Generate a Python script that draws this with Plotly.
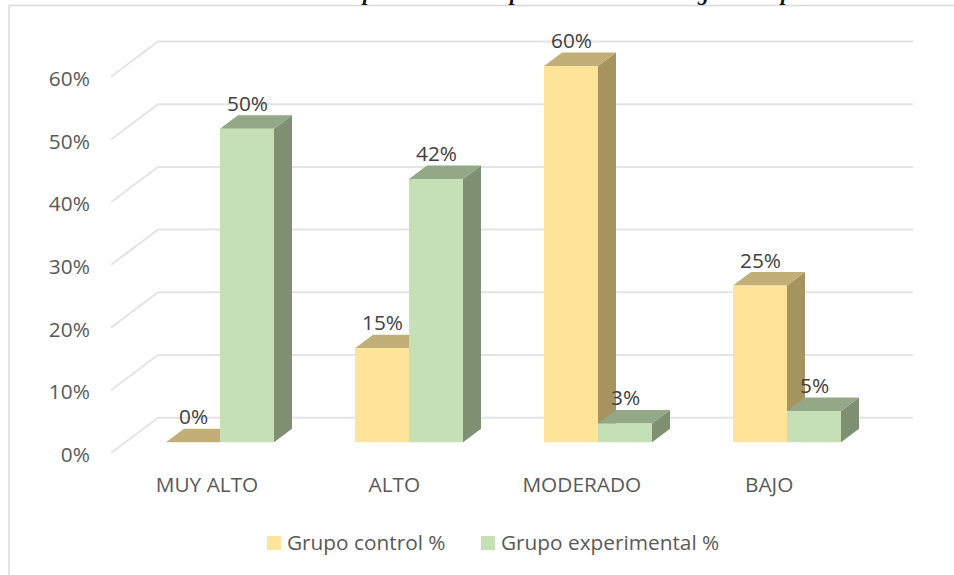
import plotly.graph_objects as go

# Chart data
categories = ["MUY ALTO", "ALTO", "MODERADO", "BAJO"]
control_values = [0, 15, 60, 25]
experimental_values = [50, 42, 3, 5]
series_names = ["Grupo control %", "Grupo experimental %"]
percent_ticks = [0, 10, 20, 30, 40, 50, 60]

# Canvas and plotting geometry, in pixels
WIDTH, HEIGHT = 954, 575
PLOT_L, PLOT_R, PLOT_T, PLOT_B = 96, 954, 18, 466
GROUP_X0, GROUP_STEP = 220.0, 189.0      # shared edge of the two bars in the first group
BASE_Y, UNIT_Y = 442.3, 6.27             # zero level of the bar fronts, pixels per percent
BAR_W = 54.0
DEPTH_X, DEPTH_Y = 18.0, 13.5            # oblique offset of a bar's rear edge


def cat(px):
    return (px - GROUP_X0) / GROUP_STEP


def val(py):
    return (BASE_Y - py) / UNIT_Y


bar_w = BAR_W / GROUP_STEP
dx = DEPTH_X / GROUP_STEP
dy = DEPTH_Y / UNIT_Y

# The floor extends in front of and behind the bars
FLOOR_FRONT = val(453.0)
FLOOR_BACK = val(417.7)
WALL_LEFT, WALL_RIGHT, FLOOR_LEFT = cat(158), cat(913), cat(111)

fig = go.Figure()


def polygons(shapes):
    xs, ys = [], []
    for shape in shapes:
        xs += [p[0] for p in shape] + [shape[0][0], None]
        ys += [p[1] for p in shape] + [shape[0][1], None]
    return xs, ys


def add_faces(shapes, color, name):
    xs, ys = polygons(shapes)
    fig.add_trace(go.Scatter(x=xs, y=ys, mode="lines", fill="toself", fillcolor=color,
                             line=dict(width=0, color=color), name=name,
                             showlegend=False, hoverinfo="skip"))


# Wall gridlines with their diagonal runs over the side wall
grid_x, grid_y = [], []
for t in percent_ticks:
    grid_x += [FLOOR_LEFT, WALL_LEFT, WALL_RIGHT, None]
    grid_y += [t + FLOOR_FRONT, t + FLOOR_BACK, t + FLOOR_BACK, None]
fig.add_trace(go.Scatter(x=grid_x, y=grid_y, mode="lines",
                         line=dict(color="#E4E4E4", width=2),
                         showlegend=False, hoverinfo="skip"))


def add_series(values, left_offset, colors, name):
    front, side, top = [], [], []
    for i, v in enumerate(values):
        x0 = i + left_offset
        x1 = x0 + bar_w
        front.append([(x0, 0), (x1, 0), (x1, v), (x0, v)])
        side.append([(x1, 0), (x1 + dx, dy), (x1 + dx, v + dy), (x1, v)])
        top.append([(x0, v), (x1, v), (x1 + dx, v + dy), (x0 + dx, v + dy)])
    add_faces(side, colors[1], name)
    add_faces(top, colors[2], name)
    add_faces(front, colors[0], name)


CONTROL_COLORS = ("#FEE498", "#A5945F", "#C1AF77")
EXPERIMENTAL_COLORS = ("#C6E0B5", "#7F8F72", "#93A886")
add_series(control_values, -bar_w, CONTROL_COLORS, series_names[0])
add_series(experimental_values, 0.0, EXPERIMENTAL_COLORS, series_names[1])

FONT = "Open Sans"
TEXT_SIZE = 20.8
annotations = []

# Value labels sit above the rear edge of each bar
for values, left_offset in ((control_values, -bar_w), (experimental_values, 0.0)):
    for i, v in enumerate(values):
        annotations.append(dict(x=i + left_offset + bar_w / 2, y=v, text=f"{v}%", showarrow=False,
                                xanchor="center", yanchor="middle", yshift=26,
                                font=dict(family=FONT, size=TEXT_SIZE, color="#404040")))


def paper_x(px):
    return (px - PLOT_L) / (PLOT_R - PLOT_L)


def paper_y(py):
    return (PLOT_B - py) / (PLOT_B - PLOT_T)


# Legend row
shapes = []
legend_items = [(267, series_names[0], CONTROL_COLORS[0]), (481, series_names[1], EXPERIMENTAL_COLORS[0])]
for left, label, color in legend_items:
    shapes.append(dict(type="rect", xref="paper", yref="paper",
                       x0=paper_x(left), x1=paper_x(left + 14),
                       y0=paper_y(550), y1=paper_y(536),
                       fillcolor=color, line=dict(width=0)))
    annotations.append(dict(xref="paper", yref="paper", x=paper_x(left + 18), y=paper_y(542),
                            text=label, showarrow=False, xanchor="left", yanchor="middle",
                            font=dict(family=FONT, size=TEXT_SIZE, color="#595959")))

# Chart frame: open on the right and at the bottom
frame = "#D9D9D9"
shapes.append(dict(type="line", xref="paper", yref="paper", x0=paper_x(9), x1=paper_x(954),
                   y0=paper_y(5.5), y1=paper_y(5.5), line=dict(color=frame, width=1.5)))
shapes.append(dict(type="line", xref="paper", yref="paper", x0=paper_x(9), x1=paper_x(9),
                   y0=paper_y(5.5), y1=paper_y(575), line=dict(color=frame, width=1.5)))

# Caption running above the frame, only its descenders reach the page
for px, glyph in ((367, "p"), (514, "p"), (703, "g"), (785, "p")):
    annotations.append(dict(xref="paper", yref="paper", x=paper_x(px), y=paper_y(5.5),
                            text=f"<b><i>{glyph}</i></b>", showarrow=False,
                            xanchor="center", yanchor="bottom", borderpad=0, borderwidth=0,
                            font=dict(family="Liberation Serif", size=22, color="#111111")))

# Category labels follow their own spacing along the floor
label_x = [cat(207 + 187.4 * i) for i in range(len(categories))]

fig.update_layout(
    width=WIDTH, height=HEIGHT,
    margin=dict(l=PLOT_L, r=WIDTH - PLOT_R, t=PLOT_T, b=HEIGHT - PLOT_B, autoexpand=False),
    paper_bgcolor="white", plot_bgcolor="white",
    showlegend=False,
    annotations=annotations, shapes=shapes,
    xaxis=dict(range=[cat(PLOT_L), cat(PLOT_R)], tickmode="array", tickvals=label_x, ticktext=categories,
               showgrid=False, zeroline=False, showline=False, ticks="outside", ticklen=0,
               tickfont=dict(family=FONT, size=TEXT_SIZE, color="#595959"), fixedrange=True),
    yaxis=dict(range=[val(PLOT_B), val(PLOT_T)], tickmode="array",
               tickvals=[t + FLOOR_FRONT - 0.3 for t in percent_ticks],
               ticktext=[f"{t}%" for t in percent_ticks],
               showgrid=False, zeroline=False, showline=False, ticks="outside", ticklen=1,
               tickcolor="rgba(0,0,0,0)",
               tickfont=dict(family=FONT, size=TEXT_SIZE, color="#595959"), fixedrange=True),
)

fig.write_html("out.html", config={"displayModeBar": False})
